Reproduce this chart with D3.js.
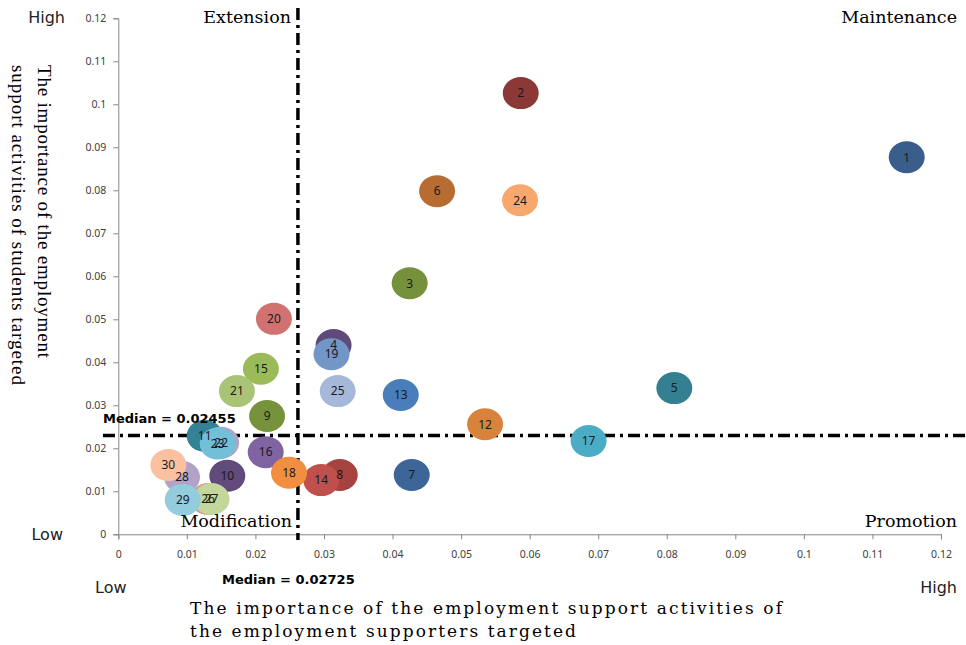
<!DOCTYPE html>
<html>
<head>
<meta charset="utf-8">
<script src="https://cdn.jsdelivr.net/npm/d3@7"></script>
<style>
  body { margin: 0; background: #fff; }
  svg { display: block; }
</style>
</head>
<body>
<svg id="chart"></svg>
<script>
// importance of employment support activities: supporters (x) vs students (y)

var width = 966,
    height = 645;

// point ids
var pointIds = [1, 2, 3, 4, 5, 6, 7, 8, 9, 10,
                11, 12, 13, 14, 15, 16, 17, 18, 19, 20,
                21, 22, 23, 24, 25, 26, 27, 28, 29, 30];
var xVals = [0.1150, 0.0587, 0.0425, 0.0314, 0.0811, 0.0465, 0.0428, 0.0323, 0.0217, 0.0159,
             0.0126, 0.0535, 0.0412, 0.0296, 0.0208, 0.0215, 0.0686, 0.0249, 0.0311, 0.0227,
             0.0173, 0.0150, 0.0145, 0.0586, 0.0320, 0.0131, 0.0136, 0.0093, 0.0094, 0.0073];
var yVals = [0.0877, 0.1026, 0.0584, 0.0440, 0.0340, 0.0798, 0.0138, 0.0138, 0.0275, 0.0136,
             0.0229, 0.0256, 0.0324, 0.0126, 0.0385, 0.0191, 0.0217, 0.0143, 0.0419, 0.0501,
             0.0333, 0.0213, 0.0211, 0.0777, 0.0333, 0.0082, 0.0082, 0.0133, 0.0080, 0.0161];

// colours per point (style)
var pointColors = ["#3a5e8c", "#8c3836", "#76913c", "#5f4a7a", "#347f90", "#b76d32", "#3e6598", "#a64240", "#76923c", "#614a7c",
                   "#328396", "#d9823b", "#4a7ebb", "#c0504d", "#9bbb59", "#8064a2", "#4bacc6", "#f28e3f", "#7396c9", "#cf7270",
                   "#a9c476", "#b3a2c7", "#73bfd8", "#f9a86d", "#a5b8da", "#d99694", "#c3d69b", "#b3a2c7", "#93cddd", "#fac09f"];

var xTicks = [0, 0.01, 0.02, 0.03, 0.04, 0.05, 0.06, 0.07, 0.08, 0.09, 0.1, 0.11, 0.12];
var yTicks = [0, 0.01, 0.02, 0.03, 0.04, 0.05, 0.06, 0.07, 0.08, 0.09, 0.1, 0.11, 0.12];

var medianLabels = ["Median = 0.02725", "Median = 0.02455"];
var medianLineX = 0.0262,
    medianLineY = 0.0230;

var quadrantNames = ["Extension", "Maintenance", "Modification", "Promotion"];

var svg = d3.select('#chart')
            .attr('width', width)
            .attr('height', height);

var x = d3.scaleLinear()
  .domain([0, 0.12])
  .range([118.3, 941]);

var y = d3.scaleLinear()
  .domain([0, 0.12])
  .range([534.3, 18.3]);

var fmt = function(d){ return d === 0 ? "0" : String(+d.toFixed(2)); };

// X axis
var gx = svg.append("g")
  .attr("transform", "translate(0," + y(0) + ")")
  .call(d3.axisBottom(x).tickValues(xTicks).tickFormat(fmt).tickSizeOuter(0).tickSize(5).tickPadding(11));

// Y axis
var gy = svg.append("g")
  .attr("transform", "translate(" + x(0) + ",0)")
  .call(d3.axisLeft(y).tickValues(yTicks).tickFormat(fmt).tickSizeOuter(0).tickSize(5).tickPadding(7));

[gx, gy].forEach(function(g){
  g.select(".domain").attr("stroke", "#868686");
  g.selectAll(".tick line").attr("stroke", "#868686");
  g.selectAll(".tick text")
    .attr("fill", "#404040")
    .style("font-family", "'Noto Sans', sans-serif")
    .style("font-size", "10.5px");
});

// median lines
var dash = "12,5,3,5";
svg.append("line")
  .attr("x1", x(medianLineX)).attr("x2", x(medianLineX))
  .attr("y1", 8).attr("y2", 540)
  .attr("stroke", "#000").attr("stroke-width", 3.5)
  .attr("stroke-dasharray", dash);
svg.append("line")
  .attr("x1", 103).attr("x2", width)
  .attr("y1", y(medianLineY)).attr("y2", y(medianLineY))
  .attr("stroke", "#000").attr("stroke-width", 3.5)
  .attr("stroke-dasharray", dash);

// points: all bubbles first, labels on top
var pts = pointIds.map(function(id, i){
  return {id: id, x: xVals[i], y: yVals[i], c: pointColors[i]};
});

svg.selectAll('ellipse.pt')
  .data(pts)
  .enter()
  .append('ellipse')
    .attr('class', 'pt')
    .attr('cx', d => x(d.x))
    .attr('cy', d => y(d.y))
    .attr('rx', 18)
    .attr('ry', 16)
    .attr('fill', d => d.c);

svg.selectAll('text.pt')
  .data(pts)
  .enter()
  .append('text')
    .attr('class', 'pt')
    .attr('x', d => x(d.x))
    .attr('y', d => y(d.y))
    .attr('text-anchor', 'middle')
    .attr('dy', '0.36em')
    .style('font-family', "'Noto Sans', sans-serif")
    .style('font-size', '12px')
    .attr('fill', '#1a1a1a')
    .text(d => d.id);

// median labels
var bold = "'DejaVu Sans', sans-serif";
svg.append("text")
  .attr("x", 222).attr("y", 584)
  .style("font-family", bold)
  .style("font-size", "13px").style("font-weight", "bold")
  .text(medianLabels[0]);
svg.append("text")
  .attr("x", 103).attr("y", 423)
  .style("font-family", bold)
  .style("font-size", "13px").style("font-weight", "bold")
  .text(medianLabels[1]);

// quadrant names
var serif = "'DejaVu Serif', serif";
var quad = [
  {t: quadrantNames[0], x: 291, y: 23},
  {t: quadrantNames[1], x: 957, y: 23},
  {t: quadrantNames[2], x: 292, y: 527},
  {t: quadrantNames[3], x: 957, y: 527}
];
svg.selectAll("text.quad")
  .data(quad)
  .enter()
  .append("text")
    .attr("class", "quad")
    .attr("x", d => d.x).attr("y", d => d.y)
    .attr("text-anchor", "end")
    .style("font-family", serif)
    .style("font-size", "17.5px")
    .text(d => d.t);

// high / low markers
var sans = "'DejaVu Sans', sans-serif";
function marker(t, xx, yy, anchor){
  svg.append("text")
    .attr("x", xx).attr("y", yy)
    .attr("text-anchor", anchor)
    .style("font-family", sans)
    .style("font-size", "16px")
    .attr("fill", "#222")
    .text(t);
}
marker("High", 65, 23, "end");
marker("Low", 63, 540, "end");
marker("Low", 95, 593, "start");
marker("High", 957, 593, "end");

// axis titles
svg.append("text")
  .attr("x", 190).attr("y", 614)
  .attr("textLength", 592).attr("lengthAdjust", "spacing")
  .style("font-family", serif)
  .style("font-size", "17px")
  .text("The importance of the employment support activities of");
svg.append("text")
  .attr("x", 190).attr("y", 637)
  .attr("textLength", 386).attr("lengthAdjust", "spacing")
  .style("font-family", serif)
  .style("font-size", "17px")
  .text("the employment supporters targeted");

var yt = svg.append("text")
  .attr("transform", "translate(38,65) rotate(90)")
  .style("font-family", "'Liberation Serif', serif")
  .style("font-size", "19px");
yt.append("tspan").attr("x", 0).attr("y", 0)
  .attr("textLength", 293).attr("lengthAdjust", "spacing")
  .text("The importance of the employment");
yt.append("tspan").attr("x", 0).attr("y", 26)
  .attr("textLength", 320).attr("lengthAdjust", "spacing")
  .text("support activities of students targeted");
</script>
</body>
</html>
